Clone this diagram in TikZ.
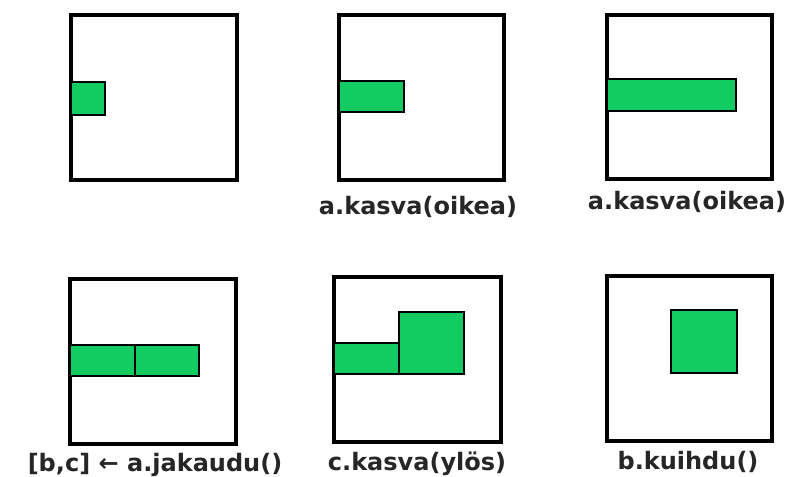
\documentclass[tikz,border=0pt]{standalone}
\usepackage{fontspec}
\usepackage{xcolor}
\usepackage{tikz}
\newfontfamily\labelfont{DejaVu Sans Bold}
\definecolor{cellgreen}{RGB}{18,204,98}

\begin{document}
\begin{tikzpicture}[x=0.75pt, y=-0.75pt,
		box/.style={draw=black, line width=2.3pt},
		cell/.style={fill=cellgreen, draw=black, line width=1.9pt},
		lbl/.style={font=\labelfont\fontsize{18}{20}\selectfont, text=black!85, inner sep=0pt}]
			\useasboundingbox (0,0) rectangle (790,477);
			
			% ensimmäinen rivi
			\draw[box] (71,15) rectangle (237,180);
			\draw[cell] (71,82) rectangle (105,115);
			
			\draw[box] (339,15) rectangle (504,180);
			\draw[cell] (339,81) rectangle (404,112);
			\node[lbl] (kasvaA) at (418,207) {a.kasva(oikea)};
			
			\draw[box] (607,15) rectangle (772,179);
			\draw[cell] (607,79) rectangle (736,111);
			\node[lbl] (kasvaB) at (687,202) {a.kasva(oikea)};
			
			% toinen rivi
			\draw[box] (70,279) rectangle (236,444);
			\draw[cell] (70,345) rectangle (135,376);
			\draw[cell] (135,345) rectangle (199,376);
			\node[lbl] (jakaudu) at (155,465) {[b,c] ← a.jakaudu()};
			
			\draw[box] (334,277) rectangle (501,442);
			\draw[cell] (334,343) rectangle (399,374);
			\draw[cell] (399,312) rectangle (464,374);
			\node[lbl] (kasvaC) at (417,464) {c.kasva(ylös)};
			
			\draw[box] (607,276) rectangle (772,441);
			\draw[cell] (671,310) rectangle (737,373);
			\node[lbl] (kuihdu) at (688,462) {b.kuihdu()};
\end{tikzpicture}
\end{document}
